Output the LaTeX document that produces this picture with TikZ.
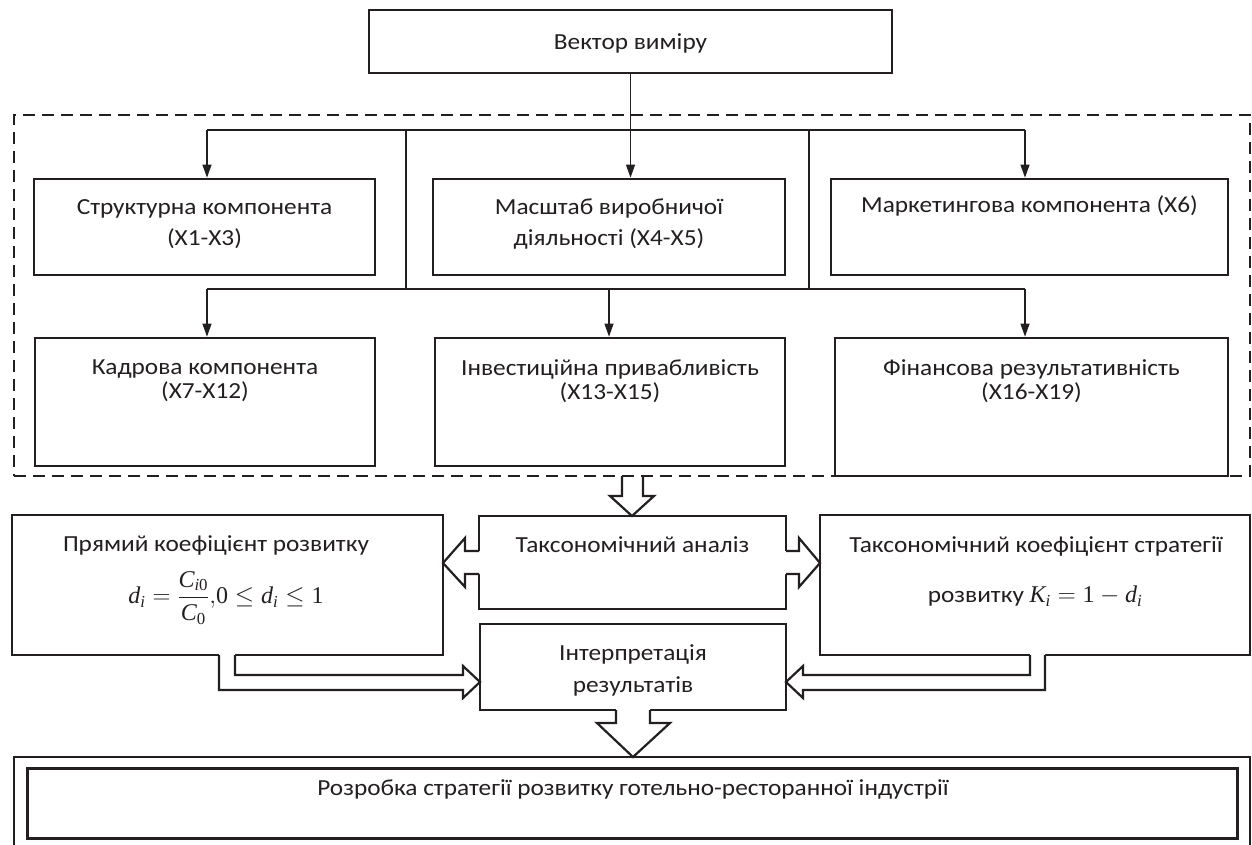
\documentclass[tikz,border=0pt]{standalone}
\usepackage{fontspec}
\usepackage{amsmath}
\setmainfont[FakeStretch=1.1]{Carlito}
\newfontfamily\tms{Liberation Serif}
\usetikzlibrary{arrows.meta}
\definecolor{ink}{HTML}{231F20}
\newcommand\tv[1]{\text{\tms\itshape #1}}
\newcommand\tu[1]{\text{\tms #1}}
\newcommand\mkbox[6][box]{\node[#1, minimum width={#5-#3}, minimum height={#6-#4}] (#2) at ({(#3+#5)/2},{(#4+#6)/2}) {};}
\tikzset{
  box/.style={draw=ink, line width=2.7pt, fill=white, inner sep=0pt, rectangle},
  group/.style={draw=ink, line width=2pt, dash pattern=on 12pt off 7pt, inner sep=0pt, rectangle},
  outerbox/.style={draw=ink, line width=2.4pt, fill=white, inner sep=0pt, rectangle},
  innerbox/.style={draw=ink, line width=3pt, fill=white, inner sep=0pt, rectangle},
  lbl/.style={font=\fontsize{23}{24}\selectfont, align=center, inner sep=0pt, text=ink},
  lblw/.style={lbl, font=\fontsize{23}{31}\selectfont},
  thinline/.style={line width=1.1pt, draw=ink},
  arr/.style={thinline, -{Triangle[length=13pt,width=9pt]}},
  hollow/.style={draw=ink, line width=2.2pt, line join=miter},
  hfill/.style={fill=white, draw=none},
}
\begin{document}
\begin{tikzpicture}[x=1pt,y=-1pt]
\useasboundingbox (0,0) rectangle (1252,845);
% dashed group
\mkbox[group]{grp}{14}{115}{1250}{476}
% boxes
\mkbox{top}{369}{10}{892}{73}
\mkbox{b1}{34}{179}{375}{275}
\mkbox{b2}{433}{179}{785}{275}
\mkbox{b3}{831}{179}{1228}{275}
\mkbox{b4}{35}{338}{375}{466}
\mkbox{b5}{435}{338}{785}{466}
\mkbox{b6}{835}{338}{1228}{476}
\mkbox{tax}{479}{516}{786}{609}
\mkbox{lft}{12}{515}{443}{655}
\mkbox{rgt}{820}{515}{1250}{655}
\mkbox{interp}{480}{624}{786}{710}
\mkbox[outerbox]{outer}{14}{757}{1250}{880}
\mkbox[innerbox]{inner}{27}{768}{1237}{838}
% texts
\node[lbl] (ttop) at (630.5,43) {Вектор виміру};
\node[lblw] (t1) at (204.5,224) {Структурна компонента\\(X1-X3)};
\node[lblw] (t2) at (609,224) {Масштаб виробничої\\діяльності (X4-X5)};
\node[lbl] (t3) at (1029.5,206) {Маркетингова компонента (X6)};
\node[lbl] (t4) at (205,381) {Кадрова компонента\\(X7-X12)};
\node[lbl] (t5) at (610,381) {Інвестиційна привабливість\\(X13-X15)};
\node[lbl] (t6) at (1031.5,381) {Фінансова результативність\\(X16-X19)};
\node[lbl] (ttax) at (632.5,545) {Таксономічний аналіз};
\node[lbl] (tl1) at (216,545) {Прямий коефіцієнт розвитку};
\node[lbl, font=\fontsize{24}{28}\selectfont] (tl2) at (226,598) {$\tv{d}_{\tv{i}}=\dfrac{\tv{C}_{\tv{i}\tu{0}}}{\tv{C}_{\tu{0}}}{,}\tu{0}\le\tv{d}_{\tv{i}}\le\tu{1}$};
\node[lbl] (tr1) at (1036,546) {Таксономічний коефіцієнт стратегії};
\node[lbl] (tr2) at (1035,596) {розвитку \fontsize{24}{28}\selectfont$\tv{K}_{\tv{i}}=\tu{1}-\tv{d}_{\tv{i}}$};
\node[lbl, font=\fontsize{23}{32}\selectfont] (tint) at (633,670) {Інтерпретація\\результатів};
\node[lbl] (tbot) at (633,789) {Розробка стратегії розвитку готельно-ресторанної індустрії};
% thin connectors
\coordinate (h1l) at (207,130);
\coordinate (h1r) at (1025,130);
\coordinate (h2l) at (207,289);
\coordinate (h2r) at (1025,289);
\coordinate (h2m) at (609,289);
\coordinate (v1) at (406,130);
\coordinate (v2) at (809,130);
\draw[thinline] (h1l) -- (h1r);
\draw[thinline] (h2l) -- (h2r);
\draw[thinline] (v1) -- (v1 |- h2l);
\draw[thinline] (v2) -- (v2 |- h2l);
\draw[arr] (top.south) -- (top.south |- b2.north);
\draw[arr] (h1l) -- (h1l |- b1.north);
\draw[arr] (h1r) -- (h1r |- b3.north);
\draw[arr] (h2l) -- (h2l |- b4.north);
\draw[arr] (h2m) -- (h2m |- b5.north);
\draw[arr] (h2r) -- (h2r |- b6.north);
% hollow arrows
\fill[hfill] (622,477.5) -- (622,496) -- (610,496) -- (632,516) -- (654,496) -- (643,496) -- (643,477.5) -- cycle;
\draw[hollow] (622,476) -- (622,496) -- (610,496) -- (632,516) -- (654,496) -- (643,496) -- (643,476);
\fill[hfill] (482,551) -- (465,551) -- (465,538) -- (443,563) -- (465,587) -- (465,574) -- (482,574) -- cycle;
\draw[hollow] (479,551) -- (465,551) -- (465,538) -- (443,563) -- (465,587) -- (465,574) -- (479,574);
\fill[hfill] (783,551) -- (799,551) -- (799,538) -- (820,563) -- (799,587) -- (799,574) -- (783,574) -- cycle;
\draw[hollow] (786,551) -- (799,551) -- (799,538) -- (820,563) -- (799,587) -- (799,574) -- (786,574);
\fill[hfill] (219,652) -- (219,690) -- (463,690) -- (463,698) -- (480,682) -- (463,666) -- (463,675) -- (235,675) -- (235,652) -- cycle;
\draw[hollow] (219,655) -- (219,690) -- (463,690) -- (463,698) -- (480,682) -- (463,666) -- (463,675) -- (235,675) -- (235,655);
\fill[hfill] (1045,652) -- (1045,690) -- (803,690) -- (803,698) -- (786,682) -- (803,666) -- (803,675) -- (1030,675) -- (1030,652) -- cycle;
\draw[hollow] (1045,655) -- (1045,690) -- (803,690) -- (803,698) -- (786,682) -- (803,666) -- (803,675) -- (1030,675) -- (1030,655);
\fill[hfill] (616,707) -- (616,723) -- (597,723) -- (633,757) -- (670,723) -- (650,723) -- (650,707) -- cycle;
\draw[hollow] (616,710) -- (616,723) -- (597,723) -- (633,757) -- (670,723) -- (650,723) -- (650,710);
\end{tikzpicture}
\end{document}
